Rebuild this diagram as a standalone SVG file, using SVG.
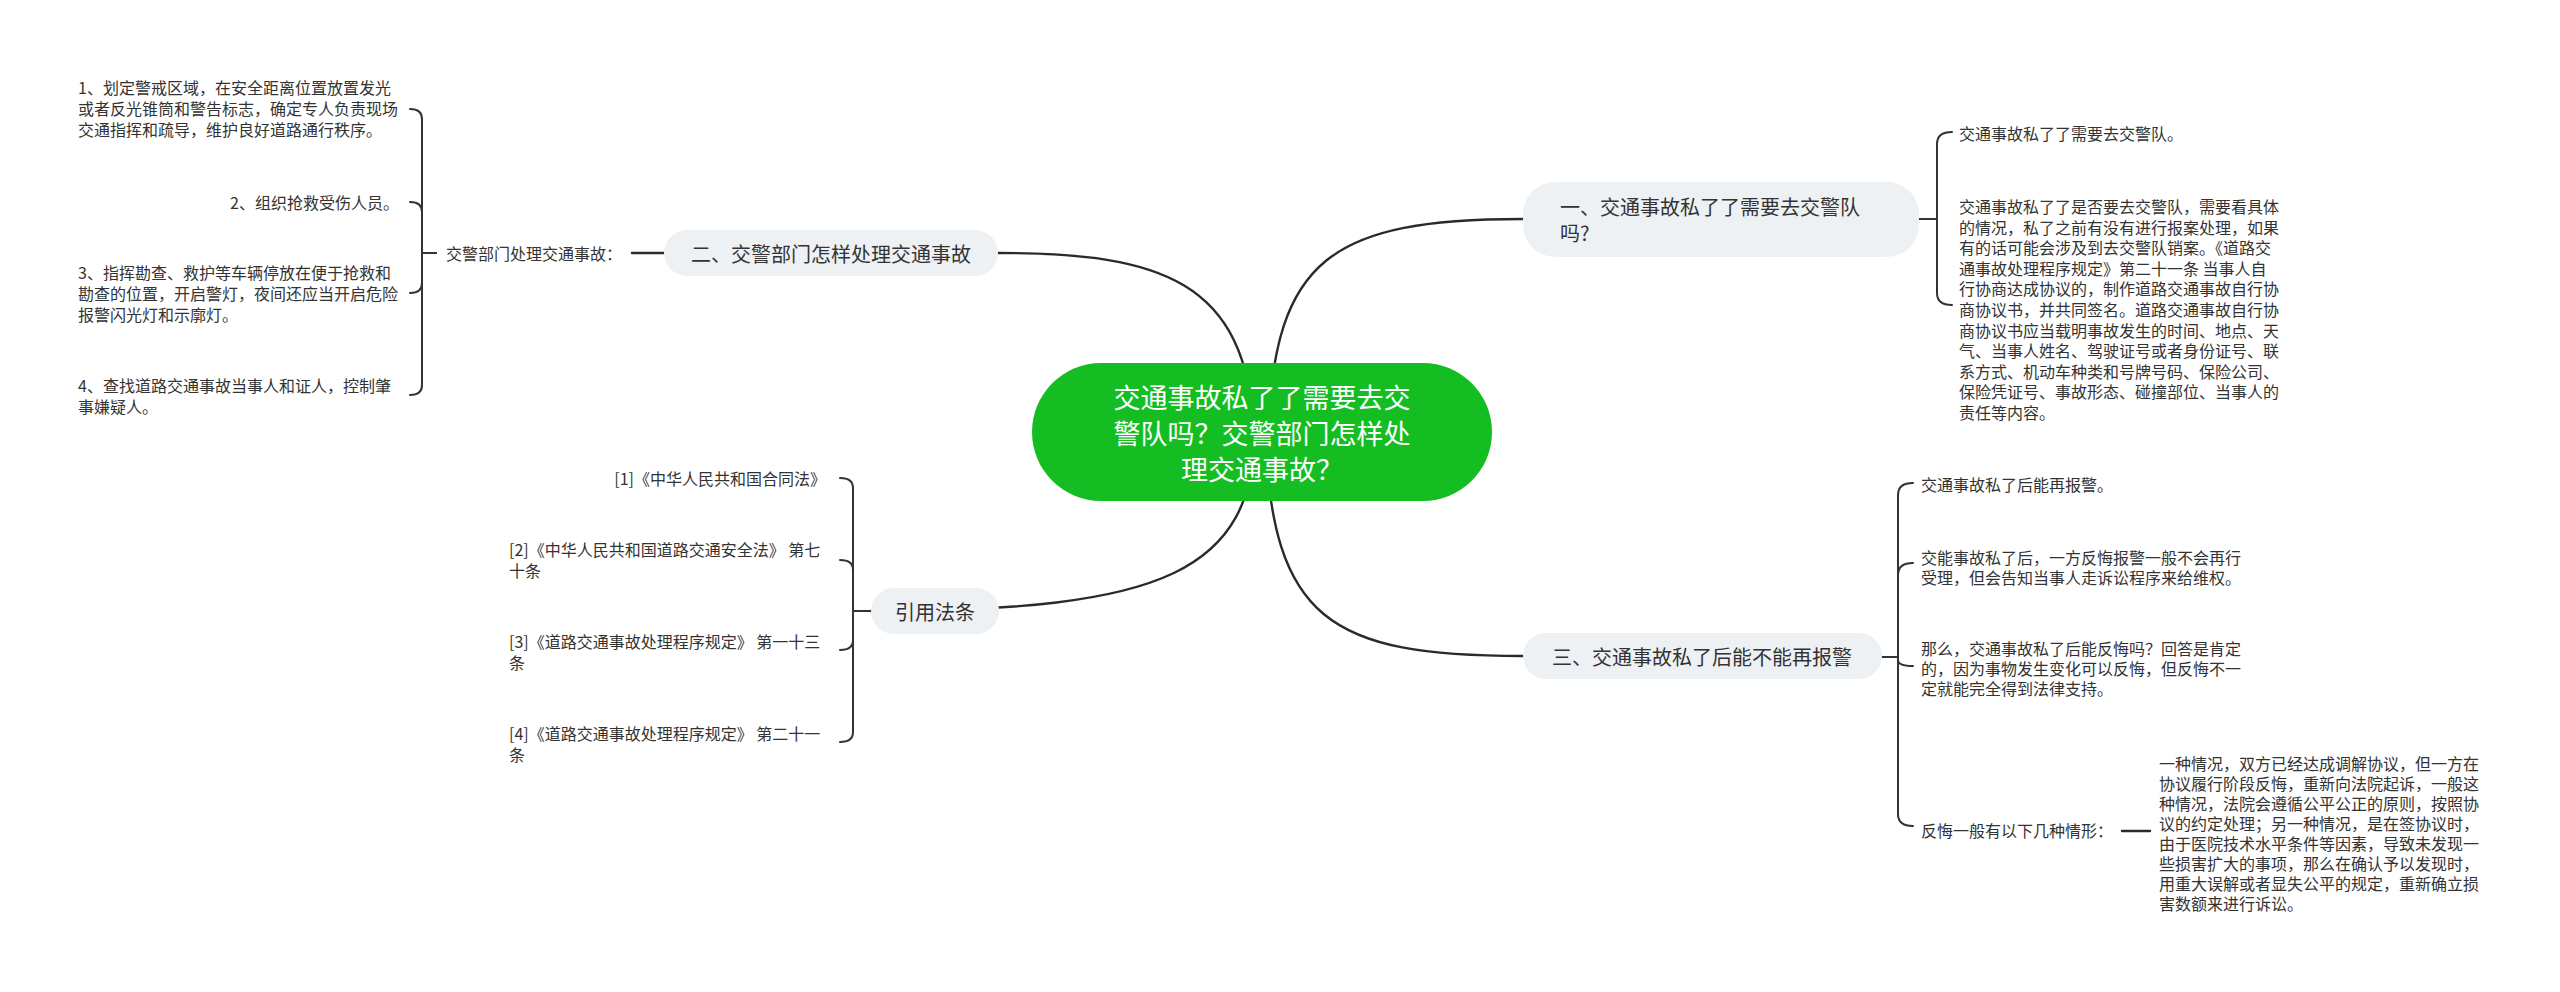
<svg xmlns="http://www.w3.org/2000/svg" width="2560" height="992" viewBox="0 0 2560 992">
<style>
text{font-family:"Noto Sans CJK SC","Noto Sans",sans-serif;dominant-baseline:central;fill:#333}
.s{font-size:16px}
.n{font-size:20px}
.c{font-size:27px;fill:#fff}
.box{fill:#eef1f4}
.ln{fill:none;stroke:#2a2a2a;stroke-width:2.4;stroke-linecap:round}
.br{fill:none;stroke:#333;stroke-width:2;stroke-linecap:round}
</style>
<rect width="2560" height="992" fill="#fff"/>
<g id="connectors">
<path class="ln" d="M1268,432 C1275,260 1330,219 1523,219"/>
<path class="ln" d="M1254,432 C1247,280 1160,253 998,253"/>
<path class="ln" d="M1265,432 C1272,620 1330,656 1523,656"/>
<path class="ln" d="M1256,432 C1250,570 1170,611 871,611"/>
<path class="ln" d="M664,253 L632,253"/>
<path class="br" d="M436,253 L422,253 L422,119 Q422,109 410,109"/>
<path class="br" d="M436,253 L422,253 L422,212 Q422,202 410,202"/>
<path class="br" d="M436,253 L422,253 L422,283 Q422,293 410,293"/>
<path class="br" d="M436,253 L422,253 L422,385 Q422,395 410,395"/>
<path class="br" d="M871,611 L853,611 L853,488 Q853,478 840,478"/>
<path class="br" d="M871,611 L853,611 L853,570 Q853,560 840,560"/>
<path class="br" d="M871,611 L853,611 L853,640 Q853,650 840,650"/>
<path class="br" d="M871,611 L853,611 L853,732 Q853,742 840,742"/>
<path class="br" d="M1919,219 L1937,219 L1937,144 Q1937,132 1952,132"/>
<path class="br" d="M1919,219 L1937,219 L1937,293 Q1937,305 1952,305"/>
<path class="br" d="M1882,657 L1898,657 L1898,495 Q1898,483 1913,483"/>
<path class="br" d="M1882,657 L1898,657 L1898,575 Q1898,563 1913,563"/>
<path class="br" d="M1882,657 L1898,657 L1898,660 Q1898,666 1913,666"/>
<path class="br" d="M1882,657 L1898,657 L1898,814 Q1898,826 1913,826"/>
<path class="ln" d="M2122,831 L2150,831"/>
</g>
<g id="center">
<rect x="1032" y="363" width="460" height="138" rx="69" fill="#14be22"/>
<text class="c" text-anchor="middle"><tspan x="1262" y="396">交通事故私了了需要去交</tspan><tspan x="1262" y="432">警队吗？交警部门怎样处</tspan><tspan x="1262" y="468">理交通事故？</tspan></text>
</g>
<g id="n1">
<rect class="box" x="1523" y="182" width="396" height="75" rx="32"/>
<text class="n"><tspan x="1560" y="206">一、交通事故私了了需要去交警队</tspan><tspan x="1560" y="232">吗?</tspan></text>
</g>
<g id="n1-a"><text class="s" x="1959" y="133">交通事故私了了需要去交警队。</text></g>
<g id="n1-b"><text class="s"><tspan x="1959" y="206">交通事故私了了是否要去交警队，需要看具体</tspan><tspan x="1959" y="226.6">的情况，私了之前有没有进行报案处理，如果</tspan><tspan x="1959" y="247.2">有的话可能会涉及到去交警队销案。《道路交</tspan><tspan x="1959" y="267.8">通事故处理程序规定》第二十一条 当事人自</tspan><tspan x="1959" y="288.4">行协商达成协议的，制作道路交通事故自行协</tspan><tspan x="1959" y="309">商协议书，并共同签名。道路交通事故自行协</tspan><tspan x="1959" y="329.6">商协议书应当载明事故发生的时间、地点、天</tspan><tspan x="1959" y="350.2">气、当事人姓名、驾驶证号或者身份证号、联</tspan><tspan x="1959" y="370.8">系方式、机动车种类和号牌号码、保险公司、</tspan><tspan x="1959" y="391.4">保险凭证号、事故形态、碰撞部位、当事人的</tspan><tspan x="1959" y="412">责任等内容。</tspan></text></g>
<g id="n2">
<rect class="box" x="664" y="230" width="334" height="46" rx="23"/>
<text class="n" x="831" y="253" text-anchor="middle">二、交警部门怎样处理交通事故</text>
</g>
<g id="n2-label"><text class="s" x="446" y="253">交警部门处理交通事故：</text></g>
<g id="n2-1"><text class="s"><tspan x="78" y="87">1、划定警戒区域，在安全距离位置放置发光</tspan><tspan x="78" y="108">或者反光锥筒和警告标志，确定专人负责现场</tspan><tspan x="78" y="129">交通指挥和疏导，维护良好道路通行秩序。</tspan></text></g>
<g id="n2-2"><text class="s" x="230" y="202">2、组织抢救受伤人员。</text></g>
<g id="n2-3"><text class="s"><tspan x="78" y="272">3、指挥勘查、救护等车辆停放在便于抢救和</tspan><tspan x="78" y="293">勘查的位置，开启警灯，夜间还应当开启危险</tspan><tspan x="78" y="314">报警闪光灯和示廓灯。</tspan></text></g>
<g id="n2-4"><text class="s"><tspan x="78" y="385">4、查找道路交通事故当事人和证人，控制肇</tspan><tspan x="78" y="406">事嫌疑人。</tspan></text></g>
<g id="n3">
<rect class="box" x="1523" y="633" width="359" height="46" rx="23"/>
<text class="n" x="1702" y="656" text-anchor="middle">三、交通事故私了后能不能再报警</text>
</g>
<g id="n3-1"><text class="s" x="1921" y="484">交通事故私了后能再报警。</text></g>
<g id="n3-2"><text class="s"><tspan x="1921" y="557">交能事故私了后，一方反悔报警一般不会再行</tspan><tspan x="1921" y="577">受理，但会告知当事人走诉讼程序来给维权。</tspan></text></g>
<g id="n3-3"><text class="s"><tspan x="1921" y="648">那么，交通事故私了后能反悔吗？回答是肯定</tspan><tspan x="1921" y="668">的，因为事物发生变化可以反悔，但反悔不一</tspan><tspan x="1921" y="688">定就能完全得到法律支持。</tspan></text></g>
<g id="n3-4"><text class="s" x="1921" y="830">反悔一般有以下几种情形：</text></g>
<g id="n3-4-1"><text class="s"><tspan x="2159" y="763">一种情况，双方已经达成调解协议，但一方在</tspan><tspan x="2159" y="783">协议履行阶段反悔，重新向法院起诉，一般这</tspan><tspan x="2159" y="803">种情况，法院会遵循公平公正的原则，按照协</tspan><tspan x="2159" y="823">议的约定处理；另一种情况，是在签协议时，</tspan><tspan x="2159" y="843">由于医院技术水平条件等因素，导致未发现一</tspan><tspan x="2159" y="863">些损害扩大的事项，那么在确认予以发现时，</tspan><tspan x="2159" y="883">用重大误解或者显失公平的规定，重新确立损</tspan><tspan x="2159" y="903">害数额来进行诉讼。</tspan></text></g>
<g id="n4">
<rect class="box" x="871" y="588" width="128" height="46" rx="23"/>
<text class="n" x="935" y="611" text-anchor="middle">引用法条</text>
</g>
<g id="n4-1"><text class="s" x="826" y="478" text-anchor="end">[1]《中华人民共和国合同法》</text></g>
<g id="n4-2"><text class="s"><tspan x="509" y="549">[2]《中华人民共和国道路交通安全法》 第七</tspan><tspan x="509" y="570">十条</tspan></text></g>
<g id="n4-3"><text class="s"><tspan x="509" y="641">[3]《道路交通事故处理程序规定》 第一十三</tspan><tspan x="509" y="662">条</tspan></text></g>
<g id="n4-4"><text class="s"><tspan x="509" y="733">[4]《道路交通事故处理程序规定》 第二十一</tspan><tspan x="509" y="754">条</tspan></text></g>
</svg>
